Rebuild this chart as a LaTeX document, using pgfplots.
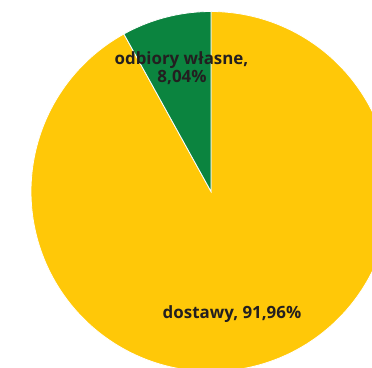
\documentclass[border=0pt]{standalone}
\usepackage{fontspec}
\setmainfont{Open Sans}
\usepackage{pgfplots}
\pgfplotsset{compat=1.18}
\definecolor{pyellow}{HTML}{FFC808}
\definecolor{pgreen}{HTML}{0B843F}
\definecolor{ptext}{HTML}{231F20}
\begin{document}
\begin{tikzpicture}
\def\vA{8.04}
\def\vB{91.96}
\pgfmathsetmacro\aEnd{90+\vA*3.6}
\clip (0,0) rectangle (372pt,367pt);
\begin{axis}[
  at={(0,0)}, anchor=south west,
  scale only axis, width=372pt, height=367pt,
  xmin=0, xmax=372, ymin=0, ymax=367,
  hide axis, clip=true,
]
\addplot[fill=pyellow, draw=white, line width=0.8pt, domain=\aEnd:450, samples=200] ({211+180*cos(x)}, {175.5+180*sin(x)}) -- (axis cs:211,175.5) -- cycle;
\addplot[fill=pgreen, draw=white, line width=0.8pt, domain=90:\aEnd, samples=40] ({211+180*cos(x)}, {175.5+180*sin(x)}) -- (axis cs:211,175.5) -- cycle;
\node[font=\bfseries\fontsize{16.9}{18}\selectfont, text=ptext, anchor=base, inner sep=0pt] at (axis cs:181.5,302) {odbiory własne,};
\node[font=\bfseries\fontsize{16.9}{18}\selectfont, text=ptext, anchor=base, inner sep=0pt] at (axis cs:182,284) {8,04\%};
\node[font=\bfseries\fontsize{16.9}{18}\selectfont, text=ptext, anchor=base, inner sep=0pt] at (axis cs:232,49) {dostawy, 91,96\%};
\end{axis}
\end{tikzpicture}
\end{document}
